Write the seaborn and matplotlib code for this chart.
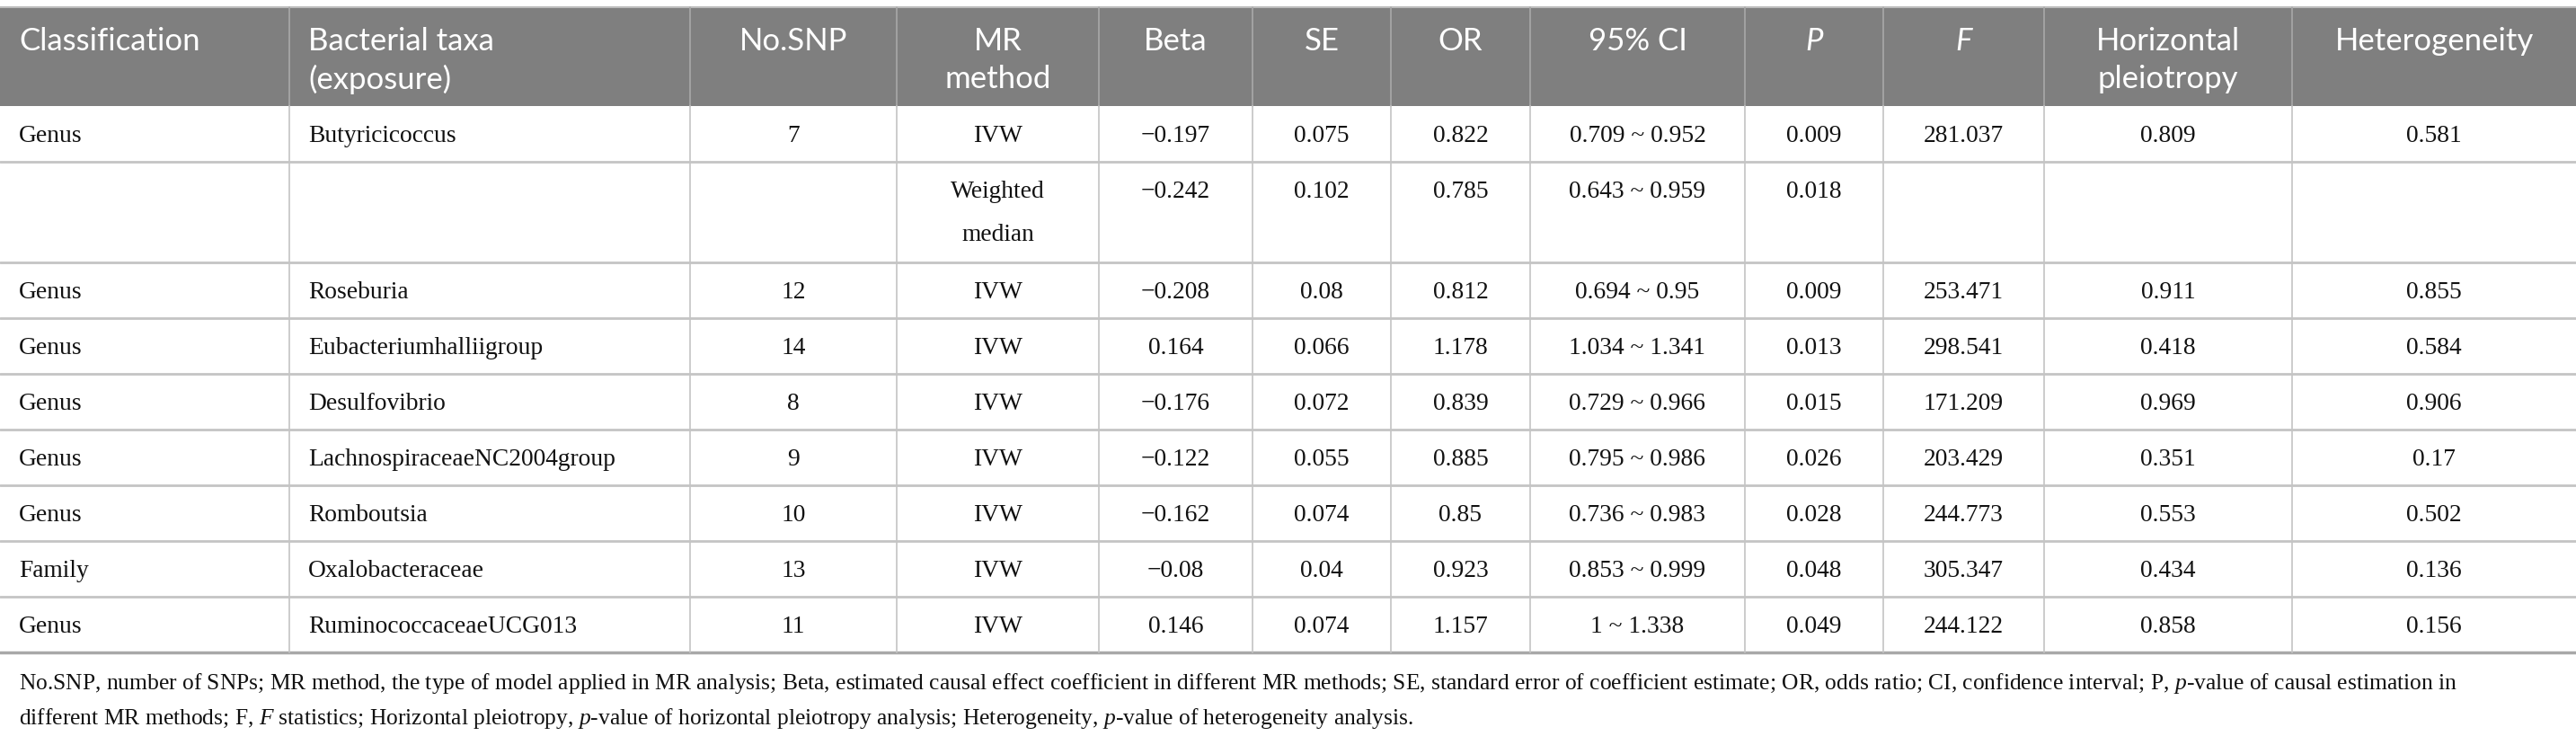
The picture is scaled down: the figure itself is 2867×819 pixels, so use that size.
import numpy as np
import matplotlib
matplotlib.use("Agg")
import matplotlib.pyplot as plt
import seaborn as sns

# table contents
headers = ["Classification", "Bacterial taxa\n(exposure)", "No.SNP", "MR\nmethod", "Beta", "SE", "OR",
           "95% CI", "P", "F", "Horizontal\npleiotropy", "Heterogeneity"]
classification = ["Genus", "", "Genus", "Genus", "Genus", "Genus", "Genus", "Family", "Genus"]
taxa = ["Butyricicoccus", "", "Roseburia", "Eubacteriumhalliigroup", "Desulfovibrio",
        "LachnospiraceaeNC2004group", "Romboutsia", "Oxalobacteraceae", "RuminococcaceaeUCG013"]
n_snp = ["7", "", "12", "14", "8", "9", "10", "13", "11"]
mr_method = ["IVW", "Weighted\nmedian", "IVW", "IVW", "IVW", "IVW", "IVW", "IVW", "IVW"]
beta = ["\u22120.197", "\u22120.242", "\u22120.208", "0.164", "\u22120.176", "\u22120.122", "\u22120.162", "\u22120.08", "0.146"]
se = ["0.075", "0.102", "0.08", "0.066", "0.072", "0.055", "0.074", "0.04", "0.074"]
odds = ["0.822", "0.785", "0.812", "1.178", "0.839", "0.885", "0.85", "0.923", "1.157"]
ci = ["0.709 ~ 0.952", "0.643 ~ 0.959", "0.694 ~ 0.95", "1.034 ~ 1.341", "0.729 ~ 0.966",
      "0.795 ~ 0.986", "0.736 ~ 0.983", "0.853 ~ 0.999", "1 ~ 1.338"]
p_val = ["0.009", "0.018", "0.009", "0.013", "0.015", "0.026", "0.028", "0.048", "0.049"]
f_stat = ["281.037", "", "253.471", "298.541", "171.209", "203.429", "244.773", "305.347", "244.122"]
pleio = ["0.809", "", "0.911", "0.418", "0.969", "0.351", "0.553", "0.434", "0.858"]
hetero = ["0.581", "", "0.855", "0.584", "0.906", "0.17", "0.502", "0.136", "0.156"]

footnote = ["No.SNP, number of SNPs; MR method, the type of model applied in MR analysis; Beta, estimated causal effect "
            "coefficient in different MR methods; SE, standard error of coefficient estimate; OR, odds ratio; CI, "
            "confidence interval; P, $p$-value of causal estimation in",
            "different MR methods; F, $F$ statistics; Horizontal pleiotropy, $p$-value of horizontal pleiotropy "
            "analysis; Heterogeneity, $p$-value of heterogeneity analysis."]

columns = [classification, taxa, n_snp, mr_method, beta, se, odds, ci, p_val, f_stat, pleio, hetero]

# layout (pixels)
col_edges = [0, 322, 768, 998, 1223, 1394, 1548, 1703, 1942, 2096, 2275, 2551, 2867]
left_cols = [0, 1]
head_top, head_bot = 8, 118
line_h = 48
W, H = 2867, 819

sns.set_theme(style="white")
plt.rcParams["mathtext.fontset"] = "custom"
plt.rcParams["mathtext.rm"] = "Liberation Serif"
plt.rcParams["mathtext.it"] = "Liberation Serif:italic"

serif = ["Liberation Serif", "DejaVu Serif"]
sans = ["Lato", "Open Sans", "DejaVu Sans"]

fig = plt.figure(figsize=(W / 100, H / 100), dpi=100)
ax = fig.add_axes([0, 0, 1, 1])
ax.set_xlim(0, W)
ax.set_ylim(H, 0)
ax.axis("off")

# header band
ax.fill_between([0, W], head_top, head_bot, color="#7f7f7f", lw=0)
ax.plot([0, W], [head_top, head_top], color="#bdbdbd", lw=1.5)
for x in col_edges[1:-1]:
    ax.plot([x, x], [head_top, head_bot], color="#a9a9a9", lw=1.2)

for j, h in enumerate(headers):
    for k, line in enumerate(h.split("\n")):
        y = 46 + k * 42
        style = "italic" if h in ("P", "F") else "normal"
        if j in left_cols:
            ax.text(col_edges[j] + 21, y, line, ha="left", va="center", color="white",
                    fontsize=25, family=sans, fontstyle=style)
        else:
            ax.text((col_edges[j] + col_edges[j + 1]) / 2, y, line, ha="center", va="center",
                    color="white", fontsize=25, family=sans, fontstyle=style)

# body rows
y = head_bot
row_tops = []
for i in range(len(taxa)):
    n_lines = max(len(c[i].split("\n")) for c in columns)
    h = 62 if n_lines == 1 else 112
    row_tops.append(y)
    for j, c in enumerate(columns):
        for k, line in enumerate(c[i].split("\n")):
            ty = y + 31 + k * line_h
            if j in left_cols:
                ax.text(col_edges[j] + 21, ty, line, ha="left", va="center_baseline", color="#111111",
                        fontsize=19.8, family=serif)
            else:
                ax.text((col_edges[j] + col_edges[j + 1]) / 2, ty, line, ha="center", va="center_baseline",
                        color="#111111", fontsize=19.8, family=serif)
    y += h
table_bot = y

for t in row_tops[1:]:
    ax.plot([0, W], [t, t], color="#c4c4c4", lw=2)
ax.plot([0, W], [table_bot, table_bot], color="#a8a8a8", lw=2.5)
for x in col_edges[1:-1]:
    ax.plot([x, x], [head_bot, table_bot], color="#c4c4c4", lw=1.2)

for k, line in enumerate(footnote):
    ax.text(21, 757 + k * 39, line, ha="left", va="center_baseline", color="#111111",
            fontsize=18.4, family=serif)

fig.savefig("out.png", dpi=100, facecolor="white")
